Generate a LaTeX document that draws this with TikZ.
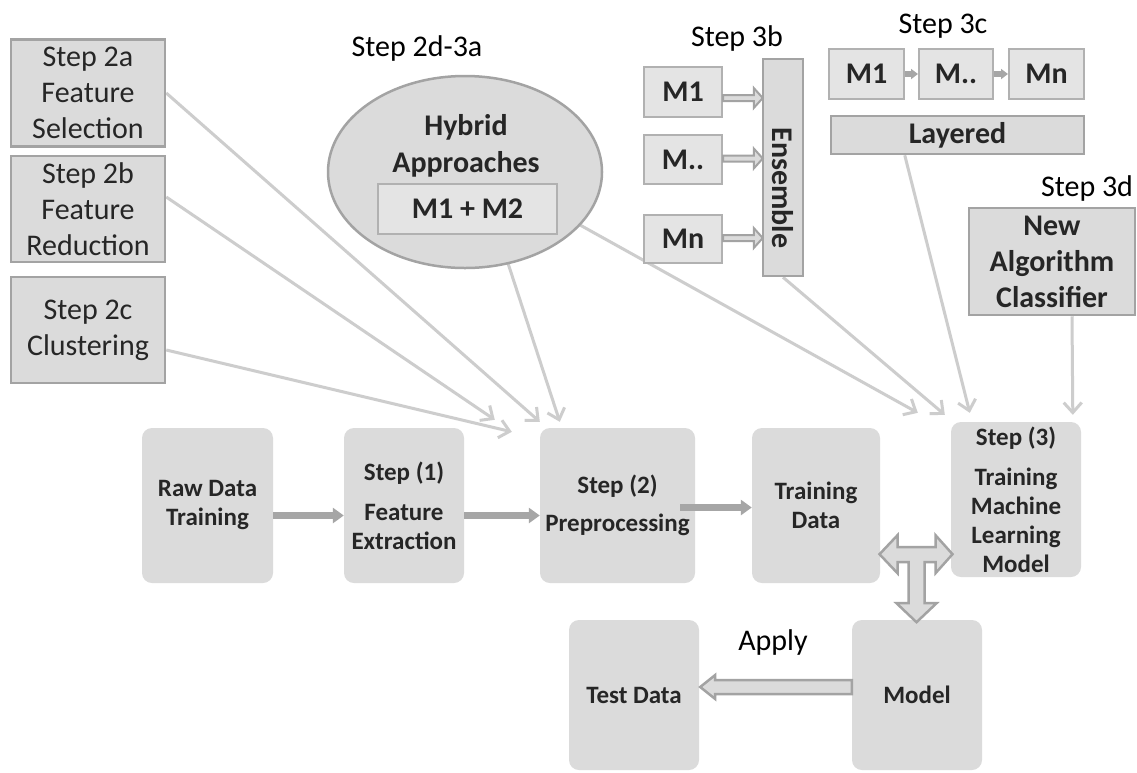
\documentclass[tikz,border=0pt]{standalone}
\usepackage{fontspec}
\setmainfont{Carlito}
\usetikzlibrary{shapes.geometric,arrows.meta,calc,backgrounds}

\definecolor{boxfill}{HTML}{DBDBDB}
\definecolor{lightfill}{HTML}{E4E4E4}
\definecolor{edgegray}{HTML}{A3A3A3}
\definecolor{linkgray}{HTML}{CDCDCD}
\definecolor{flowgray}{HTML}{A6A6A6}
\definecolor{inkgray}{HTML}{262626}

\newcommand{\bigfont}{\fontsize{30}{36}\selectfont}
\newcommand{\smallfont}{\fontsize{25}{29}\selectfont}

% outlined block arrow along a horizontal line:
% #1 style, #2 tail coordinate, #3 tip coordinate,
% #4 half shaft width, #5 half head width, #6 x offset of the head base from the tip
\newcommand{\hollowharrow}[6]{%
  \draw[hollow,#1] ($(#2)+(0,-#4)$) -- ($(#3)+(#6,-#4)$) -- ($(#3)+(#6,-#5)$) -- (#3)
    -- ($(#3)+(#6,#5)$) -- ($(#3)+(#6,#4)$) -- ($(#2)+(0,#4)$) -- cycle;}

\begin{document}
\begin{tikzpicture}[x=1pt,y=-1pt,
  stepbox/.style={draw=edgegray, line width=2.5pt, fill=boxfill, inner sep=0pt,
    align=center, text=inkgray, font=\bigfont},
  mbox/.style={draw=edgegray!85, line width=2pt, fill=lightfill, inner sep=0pt,
    align=center, text=inkgray, font=\bigfont\bfseries},
  flowbox/.style={fill=boxfill, rounded corners=10pt, inner sep=0pt,
    align=center, text=inkgray, font=\smallfont\bfseries},
  caption/.style={font=\bigfont, text=black, inner sep=0pt},
  link/.style={draw=linkgray, line width=3pt, -{Straight Barb[length=10pt,width=18pt]}},
  flow/.style={draw=flowgray, line width=7pt, -{Triangle[length=11pt,width=15pt]}},
  hollow/.style={draw=edgegray, line width=2.5pt, fill=boxfill, line join=miter}]

\useasboundingbox (0,0) rectangle (1137,772);

% ---- step 2 options on the left ----
\node[stepbox, minimum width=154pt, minimum height=107pt] (s2a) at (88,93) {Step 2a\\Feature\\Selection};
\node[stepbox, minimum width=154pt, minimum height=106pt] (s2b) at (88,209) {Step 2b\\Feature\\Reduction};
\node[stepbox, minimum width=154pt, minimum height=106pt] (s2c) at (88,330) {Step 2c\\Clustering};

% ---- hybrid approaches ----
\node[caption] (lhyb) at (417,48) {Step 2d-3a};
\node[draw=edgegray, line width=2.5pt, fill=boxfill, ellipse, minimum width=274pt,
  minimum height=192pt, inner sep=0pt] (ell) at (465,172) {};
\node[inner sep=0pt, align=center, font=\fontsize{30}{37}\selectfont\bfseries, text=inkgray]
  (hyb) at (466,146) {Hybrid\\Approaches};
\node[mbox, minimum width=179pt, minimum height=50pt] (m12) at (467.5,209) {M1 + M2};

% ---- ensemble ----
\node[caption] (l3b) at (737,38) {Step 3b};
\node[mbox, minimum width=78pt, minimum height=50pt] (b1) at (683,92) {M1};
\node[mbox, minimum width=78pt, minimum height=49pt] (b2) at (683,159.5) {M..};
\node[mbox, minimum width=78pt, minimum height=48pt] (b3) at (683,239) {Mn};
\node[stepbox, minimum width=40pt, minimum height=217pt] (ens) at (783,167.5) {};
\node[rotate=-90, inner sep=0pt, font=\bigfont\bfseries, text=inkgray] (enstxt) at (783,188) {Ensemble};

% ---- layered ----
\node[caption] (l3c) at (943,26) {Step 3c};
\node[mbox, minimum width=75pt, minimum height=50pt] (c1) at (866.5,74) {M1};
\node[mbox, minimum width=74pt, minimum height=50pt] (c2) at (956,74) {M..};
\node[mbox, minimum width=75pt, minimum height=50pt] (c3) at (1046.5,74) {Mn};
\node[stepbox, font=\bigfont\bfseries, minimum width=253pt, minimum height=38pt] (lay) at (957.5,135) {Layered};

% ---- new algorithm ----
\node[caption] (l3d) at (1087,188) {Step 3d};
\node[stepbox, font=\bigfont\bfseries, minimum width=166pt, minimum height=107pt]
  (newalg) at (1052,261.5) {New\\Algorithm\\Classifier};

% ---- main pipeline ----
\node[flowbox, minimum width=131pt, minimum height=155pt] (raw) at (207.5,505.5) {Raw Data\\Training};
\node[flowbox, minimum width=120pt, minimum height=155pt] (step1) at (404,505.5) {Step (1)\\[11pt]Feature\\Extraction};
\node[flowbox, minimum width=155pt, minimum height=155pt] (step2) at (617.5,505.5) {Step (2)\\[9pt]Preprocessing};
\node[flowbox, minimum width=128pt, minimum height=155pt] (train) at (816,505.5) {Training\\Data};
\node[flowbox, minimum width=130pt, minimum height=155pt] (step3) at (1016,499.5)
  {Step (3)\\[11pt]Training\\Machine\\Learning\\Model};
\node[flowbox, minimum width=130pt, minimum height=150pt] (test) at (634,695) {Test Data};
\node[flowbox, minimum width=130pt, minimum height=150pt] (model) at (917,695) {Model};
\node[caption] (apply) at (773,642) {Apply};

% pipeline arrows
\draw[flow] ($(raw.east)+(0,10)$) -- ($(step1.west)+(0,10)$);
\draw[flow] ($(step1.east)+(0,10)$) -- ($(step2.west)+(0,10)$);
\draw[flow] ($(step2.east)+(-15,2)$) -- ($(train.west)+(0,2)$);

% layered chain
\draw[flow, line width=6pt, -{Triangle[length=7pt,width=10pt]}] (c1.east) -- (c2.west);
\draw[flow, line width=6pt, -{Triangle[length=7pt,width=10pt]}] (c2.east) -- (c3.west);

% ensemble inputs
\coordinate (e1) at (ens.west |- b1.east);
\coordinate (e2) at (ens.west |- b2.east);
\coordinate (e3) at (ens.west |- b3.east);
\coordinate (a1s) at ($(b1.east)+(0,6)$);  \coordinate (a1t) at ($(e1)+(1,6)$);
\coordinate (a2s) at ($(b2.east)+(0,-1)$); \coordinate (a2t) at ($(e2)+(1,-1)$);
\coordinate (a3s) at ($(b3.east)+(0,-1)$); \coordinate (a3t) at ($(e3)+(1,-1)$);
\hollowharrow{line width=2pt}{a1s}{a1t}{3}{10}{-9}
\hollowharrow{line width=2pt}{a2s}{a2t}{3}{10}{-9}
\hollowharrow{line width=2pt}{a3s}{a3t}{3}{10}{-9}

% apply the model to the test data
\coordinate (ap1) at ($(model.west)+(0,-8)$);
\coordinate (ap2) at ($(test.east)+(1,-8)$);
\hollowharrow{}{ap1}{ap2}{7}{12}{15}

% T-shaped exchange arrow between training data, learning step and model
\coordinate (tj) at ($(train.south east)!.5!(step3.south west)+(1,-26)$);
\begin{scope}[shift={(tj)}]
  \draw[hollow] (-37,0) -- (-19,-19) -- (-19,-7) -- (19,-7) -- (19,-19) -- (36,0)
    -- (19,19) -- (19,8) -- (8,8) -- (8,49) -- (20,49) -- (0,68) -- (-20,49)
    -- (-8,49) -- (-8,8) -- (-19,8) -- (-19,19) -- cycle;
\end{scope}

% thin connectors behind the boxes
\coordinate (t2a) at ($(step2.north west)+(0,-6)$);
\coordinate (t2b) at ($(step2.north west)+(-45,-8)$);
\coordinate (t2c) at ($(step2.north west)+(-28,4)$);
\coordinate (t2e) at ($(step2.north west)+(20,-6)$);
\coordinate (t3e) at ($(step3.north west)+(-33,-9)$);
\coordinate (t3b) at ($(step3.north west)+(-6,-7)$);
\coordinate (t3c) at ($(step3.north west)+(19,-9)$);
\coordinate (t3d) at ($(step3.north west)+(122,-7)$);
\begin{pgfonlayer}{background}
  \fill[white] (0,0) rectangle (1137,772);
  \draw[link] (s2a.east) -- (t2a);
  \draw[link] ($(s2b.east)+(0,-12)$) -- (t2b);
  \draw[link] ($(s2c.east)+(0,20)$) -- (t2c);
  \draw[link] ($(ell.south)+(43,-6)$) -- (t2e);
  \draw[link] ($(ell.center)+(115,53)$) -- (t3e);
  \draw[link] (ens.south) -- (t3b);
  \draw[link] ($(lay.south west)+(75,0)$) -- (t3c);
  \draw[link] ($(newalg.south)+(20,0)$) -- (t3d);
\end{pgfonlayer}

\end{tikzpicture}
\end{document}
